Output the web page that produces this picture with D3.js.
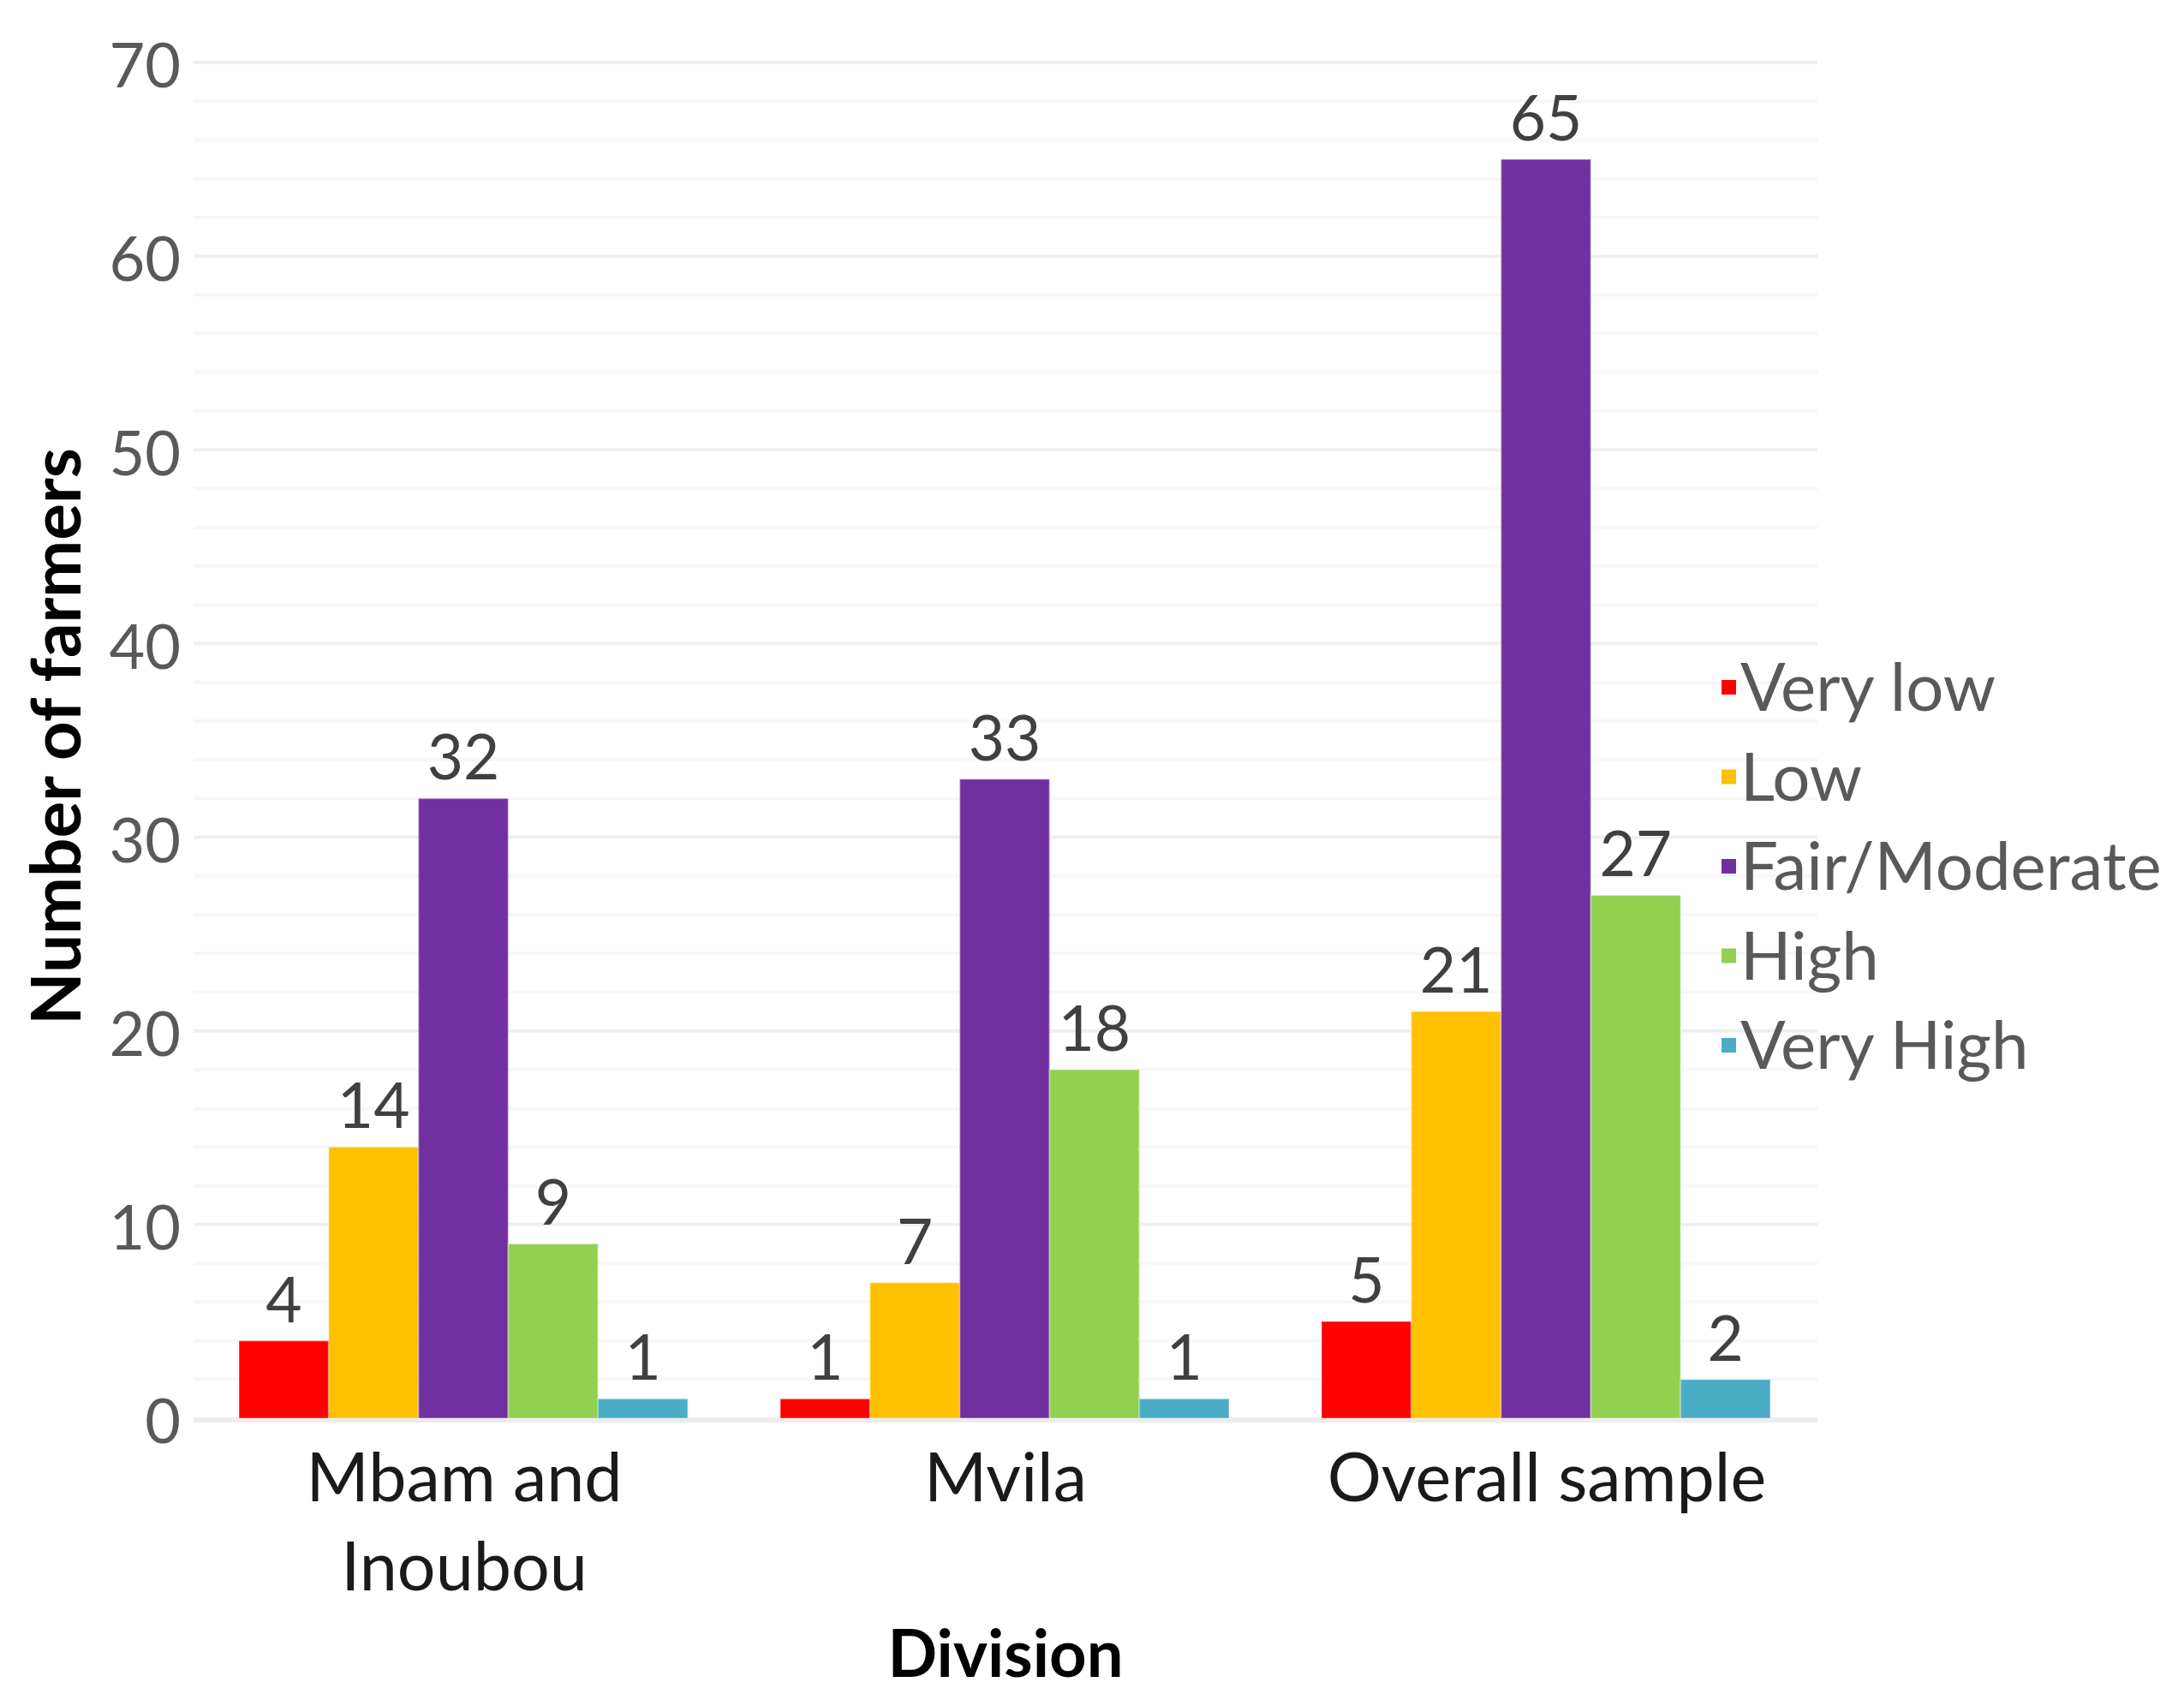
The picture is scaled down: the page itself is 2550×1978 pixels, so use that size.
<!DOCTYPE html>
<html>
<head>
<meta charset="utf-8">
<script src="https://cdn.jsdelivr.net/npm/d3@7"></script>
<style>
  html, body { margin: 0; padding: 0; background: #fff; }
  svg { display: block; font-family: Lato, "Open Sans", sans-serif; }
</style>
</head>
<body>
<svg id="chart" width="2550" height="1978"></svg>
<script>
// Perceived level per division (number of farmers)
const divisions = ["Mbam and\nInoubou", "Mvila", "Overall sample"];
const levels = ["Very low", "Low", "Fair/Moderate", "High", "Very High"];
const veryLow = [4, 1, 5];
const low = [14, 7, 21];
const fairModerate = [32, 33, 65];
const high = [9, 18, 27];
const veryHigh = [1, 1, 2];
const levelColors = ["#FF0000", "#FFC000", "#7030A0", "#92D050", "#4BACC6"];
const yTicks = [0, 10, 20, 30, 40, 50, 60, 70];

const seriesValues = [veryLow, low, fairModerate, high, veryHigh];

const svg = d3.select("#chart");

const y = d3.scaleLinear().domain([0, 70]).range([1656, 73]);
const x0 = d3.scaleBand().domain(divisions).range([226, 2122]).padding(0);
const x1 = d3.scaleBand().domain(levels).range([53, x0.bandwidth() - 55]).padding(0);
const color = d3.scaleOrdinal().domain(levels).range(levelColors);

// Gridlines: minor every 2, major every 10
const minor = d3.range(2, 70, 2).filter(v => v % 10 !== 0);
svg.append("g").selectAll("line").data(minor).join("line")
  .attr("x1", 226).attr("x2", 2122)
  .attr("y1", d => y(d)).attr("y2", d => y(d))
  .attr("stroke", "#f7f7f7").attr("stroke-width", 4);
svg.append("g").selectAll("line").data(yTicks.filter(v => v > 0)).join("line")
  .attr("x1", 226).attr("x2", 2122)
  .attr("y1", d => y(d)).attr("y2", d => y(d))
  .attr("stroke", "#efefef").attr("stroke-width", 4);
// Baseline
svg.append("line")
  .attr("x1", 226).attr("x2", 2122)
  .attr("y1", y(0) + 2).attr("y2", y(0) + 2)
  .attr("stroke", "#ececec").attr("stroke-width", 6);

// Y tick labels
const yAxis = d3.axisLeft(y).tickValues(yTicks).tickSize(0).tickPadding(0);
const yG = svg.append("g").attr("transform", "translate(211,0)").call(yAxis);
yG.select(".domain").remove();
yG.selectAll("text")
  .attr("font-family", "Lato, sans-serif")
  .attr("font-size", 72)
  .attr("fill", "#595959")
  .attr("dy", "0.4em");

// Bars
const rows = divisions.map((div, i) => ({
  div,
  items: levels.map((lv, j) => ({ level: lv, value: seriesValues[j][i] }))
}));

const groups = svg.append("g").selectAll("g").data(rows).join("g")
  .attr("transform", d => `translate(${x0(d.div)},0)`);

groups.selectAll("rect").data(d => d.items).join("rect")
  .attr("x", d => x1(d.level))
  .attr("y", d => y(d.value))
  .attr("width", x1.bandwidth())
  .attr("height", d => y(0) - y(d.value))
  .attr("fill", d => color(d.level))
  .attr("stroke", "rgba(255,255,255,0.25)")
  .attr("stroke-width", 2);

// Value labels
groups.selectAll("text").data(d => d.items).join("text")
  .attr("x", d => x1(d.level) + x1.bandwidth() / 2)
  .attr("y", d => y(d.value) - 22)
  .attr("text-anchor", "middle")
  .attr("font-size", 73)
  .attr("fill", "#404040")
  .text(d => d.value);

// Category labels (multi-line)
const xLab = svg.append("g").selectAll("text").data(divisions).join("text")
  .attr("x", d => x0(d) + x0.bandwidth() / 2)
  .attr("y", 1753)
  .attr("text-anchor", "middle")
  .attr("font-size", 79)
  .attr("fill", "#1a1a1a");
xLab.selectAll("tspan").data(d => d.split("\n")).join("tspan")
  .attr("x", function () { return d3.select(this.parentNode).attr("x"); })
  .attr("dy", (d, i) => i === 0 ? 0 : 104)
  .text(d => d);

// Axis titles
svg.append("text")
  .attr("x", 1174).attr("y", 1958)
  .attr("text-anchor", "middle")
  .attr("font-size", 76).attr("font-weight", "bold")
  .attr("fill", "#000")
  .text("Division");

svg.append("text")
  .attr("transform", "translate(94,860) rotate(-90)")
  .attr("text-anchor", "middle")
  .attr("font-size", 80).attr("font-weight", "bold")
  .attr("fill", "#000")
  .text("Number of farmers");

// Legend
const legend = svg.append("g").selectAll("g").data(levels).join("g")
  .attr("transform", (d, i) => `translate(2010,${802 + i * 104.5})`);
legend.append("rect")
  .attr("x", 0).attr("y", -8)
  .attr("width", 17).attr("height", 17)
  .attr("fill", d => color(d));
legend.append("text")
  .attr("x", 22).attr("y", 0)
  .attr("dy", "0.36em")
  .attr("font-size", 78)
  .attr("fill", "#595959")
  .text(d => d);
</script>
</body>
</html>
